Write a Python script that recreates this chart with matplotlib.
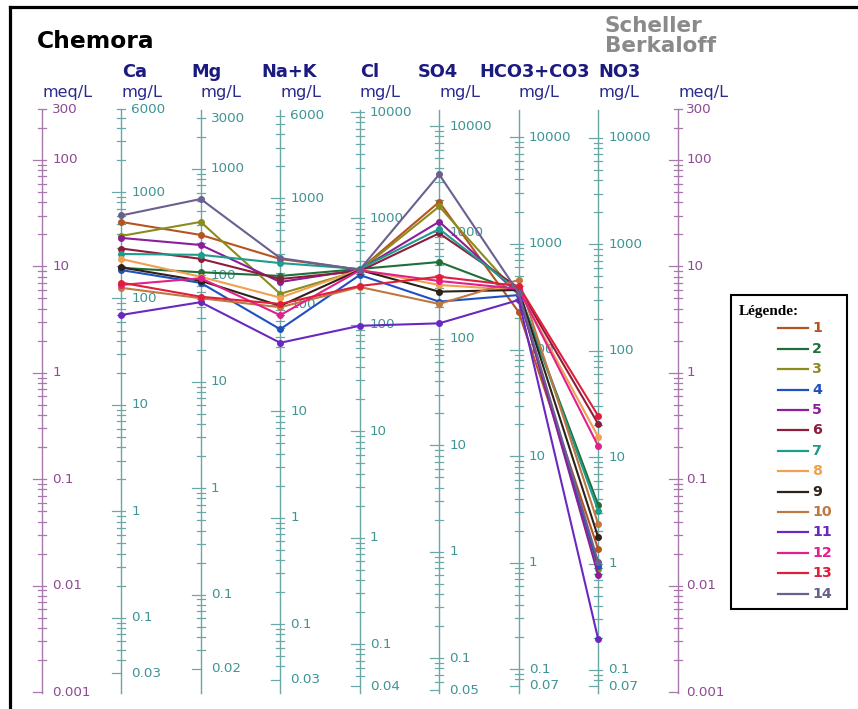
import numpy as np
import matplotlib

matplotlib.use("Agg")
import matplotlib.pyplot as plt
from matplotlib.lines import Line2D
from matplotlib.patches import Rectangle

W, H = 858, 709  # output size in pixels

# ---- data (mg/L per sample) ----
samples = [str(i) for i in range(1, 15)]
colors = ["#b4541e", "#1f6e3c", "#8c8c1e", "#2050c0", "#8c1e9c", "#8c1e3c", "#1e9c8c",
          "#f0a050", "#2e2218", "#c07840", "#6a28c0", "#e0208c", "#e01e3c", "#6a6090"]

ions = ["Ca", "Mg", "Na+K", "Cl", "SO4", "HCO3+CO3", "NO3"]
eq_weight = [20.04, 12.15, 23.0, 35.45, 48.03, 61.02, 62.0]
ion_range = [(0.03, 6000), (0.02, 3000), (0.03, 6000), (0.04, 10000),
             (0.05, 10000), (0.07, 10000), (0.07, 10000)]
meq_range = (0.001, 300)

ca = [524, 194, 387, 185, 371, 295, 262, 235, 196, 126, 70, 134, 141, 603]
mg = [240, 107, 318, 85, 193, 143, 156, 97, 89, 61, 56, 94, 63, 522]
na_k = [270, 187, 127, 59, 164, 175, 247, 117, 98, 95, 44, 80, 102, 275]
cl = [330, 335, 325, 294, 330, 320, 335, 330, 328, 227, 98, 325, 232, 330]
so4 = [1936, 528, 1756, 224, 1264, 983, 1079, 321, 278, 213, 140, 350, 384, 3511]
hco3 = [227, 350, 328, 328, 336, 383, 358, 366, 366, 455, 295, 375, 399, 343]
no3 = [1.36, 3.55, 0.89, 0.95, 0.78, 20.5, 3.14, 15.5, 1.76, 2.35, 0.194, 12.7, 24.4, 1.03]
conc = [ca, mg, na_k, cl, so4, hco3, no3]

# ---- styling ----
MEQ_LINE, MEQ_TXT = "#a678ac", "#8e4a92"
ION_LINE, ION_TXT = "#6aa8a8", "#3f9494"
HEAD = "#1a1a80"
plt.rcParams["font.family"] = ["DejaVu Sans"]

fig = plt.figure(figsize=(W / 100, H / 100), dpi=100)
X0, STEP = 41.7, 79.5          # pixel x of first scale, spacing
Y_LO, Y_HI = 692, 109.2         # pixel y of 0.001 and 300 meq/L
ax = fig.add_axes([X0 / W, (H - Y_LO) / H, 8 * STEP / W, (Y_LO - Y_HI) / H])
ax.set_xlim(0, 8)
ax.set_yscale("log")
ax.set_ylim(*meq_range)
ax.axis("off")
PX = 1 / STEP  # one pixel in x data units


def fpos(x, y):
    return x / W, 1 - y / H


def draw_scale(x, lo, hi, weight, line_col, txt_col, lab_dx):
    ax.plot([x, x], [0.00097, 292], color=line_col, lw=1.0, clip_on=False, zorder=1)
    for d in range(int(np.floor(np.log10(lo))), int(np.ceil(np.log10(hi))) + 1):
        for m in range(1, 10):
            v = m * 10.0 ** d
            if v < lo * 0.999 or v > hi * 1.001:
                continue
            y = v / weight
            if np.isclose(v, lo):
                l, r = 9, 0
            elif np.isclose(v, hi) and m != 1:
                l, r = 4, 4
            elif m == 1:
                l, r = 9, 4
            else:
                l, r = 4, 4
            ax.plot([x - l * PX, x + r * PX], [y, y], color=line_col, lw=0.9,
                    clip_on=False, zorder=1)
            if m == 1 or np.isclose(v, lo) or np.isclose(v, hi):
                ax.text(x + lab_dx * PX, y, f"{v:g}", color=txt_col, fontsize=9.7,
                        ha="left", va="center", clip_on=False)


# meq/L scales on both sides
for x in (0, 8):
    draw_scale(x, meq_range[0], meq_range[1], 1.0, MEQ_LINE, MEQ_TXT, 10.5 if x == 0 else 8.5)
# one mg/L scale per ion
for i, (rng, w) in enumerate(zip(ion_range, eq_weight)):
    draw_scale(i + 1, rng[0], rng[1], w, ION_LINE, ION_TXT, 10)

# sample profiles in meq/L
xs = np.arange(1, len(ions) + 1)
for s in range(len(samples)):
    vals = [conc[k][s] / eq_weight[k] for k in range(len(ions))]
    ax.plot(xs, vals, color=colors[s], lw=1.5, marker="o", ms=4, clip_on=False, zorder=3)

# ---- headers ----
fig.text(*fpos(37, 41), "Chemora", fontsize=16.8, fontweight="bold", color="black",
         ha="left", va="center")
fig.text(*fpos(605, 26), "Scheller", fontsize=15.5, fontweight="bold", color="#8a8a8a",
         ha="left", va="center")
fig.text(*fpos(605, 46), "Berkaloff", fontsize=15.5, fontweight="bold", color="#8a8a8a",
         ha="left", va="center")

name_x = [121.7, 191.7, 261, 360, 418, 479, 598]
for name, nx in zip(ions, name_x):
    fig.text(*fpos(nx, 72), name, fontsize=12.8, fontweight="bold", color=HEAD,
             ha="left", va="center")
for i in range(len(ions)):
    fig.text(*fpos(X0 + (i + 1) * STEP, 92), "mg/L", fontsize=11.8, color="#2a2a90",
             ha="left", va="center")
fig.text(*fpos(42.7, 92), "meq/L", fontsize=11.5, color="#2a2a90", ha="left", va="center")
fig.text(*fpos(678, 92), "meq/L", fontsize=11.5, color="#2a2a90", ha="left", va="center")

# ---- legend box ----
bx0, by0, bx1, by1 = 731, 295, 847, 609
fig.add_artist(Rectangle(fpos(bx0, by1), (bx1 - bx0) / W, (by1 - by0) / H,
                         transform=fig.transFigure, facecolor="white", edgecolor="black",
                         lw=1.5, zorder=5))
fig.text(*fpos(739, 312), "Légende:", family="Liberation Serif", fontsize=11,
         fontweight="bold", ha="left", va="center", zorder=6)
for k, (lab, c) in enumerate(zip(samples, colors)):
    ry = 328.3 + 20.4 * k
    fig.add_artist(Line2D([778 / W, 808 / W], [1 - ry / H] * 2, color=c, lw=1.6,
                          transform=fig.transFigure, zorder=6))
    fig.text(*fpos(812, ry), lab, color=c, fontsize=10.3, fontweight="bold",
             ha="left", va="center", zorder=6)

# ---- outer frame (top and left edges visible) ----
fig.add_artist(Line2D([10 / W, 10 / W], [0, 1 - 7 / H], color="black", lw=2.3,
                      transform=fig.transFigure))
fig.add_artist(Line2D([10 / W, 1], [1 - 7 / H, 1 - 7 / H], color="black", lw=2.3,
                      transform=fig.transFigure))

fig.savefig("out.png", dpi=100)
